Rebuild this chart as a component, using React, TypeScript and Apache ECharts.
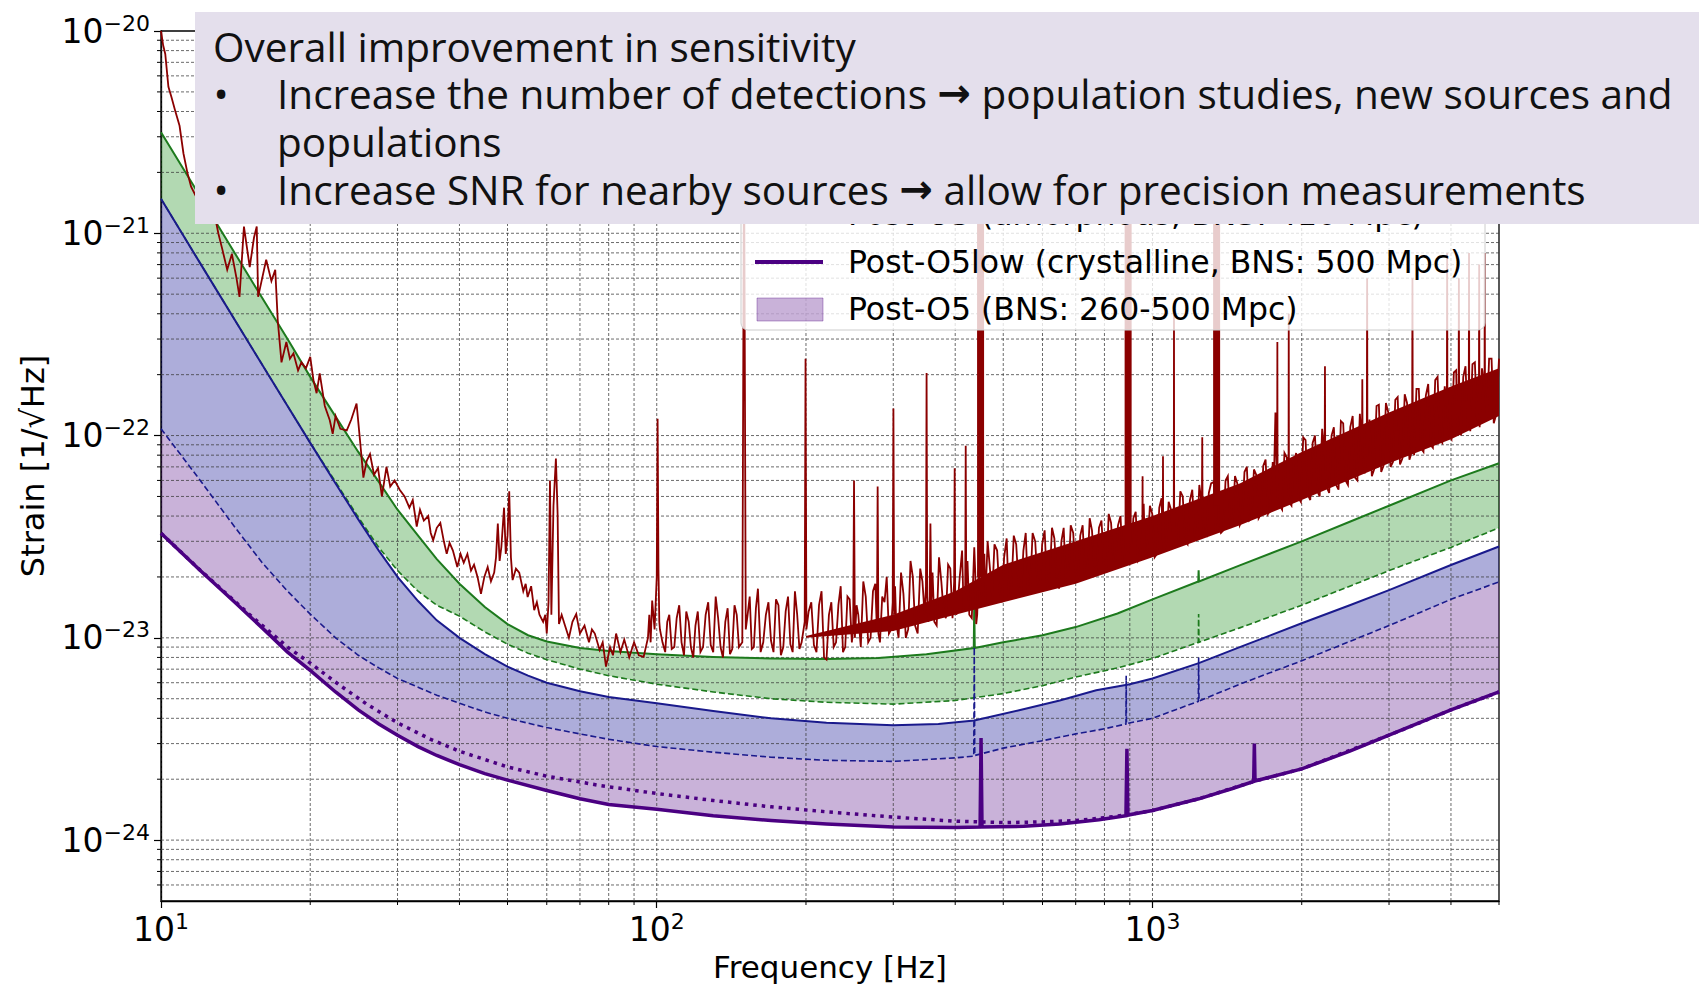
import React, { useEffect, useRef } from "react";
import * as echarts from "echarts";

type Pt = [number, number];

// ---------- axes ----------
const FREQ_MIN = 10;
const FREQ_MAX = 5000;
const STRAIN_MIN = 5e-25;
const STRAIN_MAX = 1e-20;

const xMajorGrid = [10, 100, 1000];
const xMinorGrid = [20, 30, 40, 50, 60, 70, 80, 90, 200, 300, 400, 500, 600, 700, 800, 900, 2000, 3000, 4000];
const xMinorTicks = [20, 30, 40, 50, 60, 70, 80, 90, 200, 300, 400, 500, 600, 700, 800, 900, 2000, 3000, 4000, 5000];
const yMajorGrid = [1e-24, 1e-23, 1e-22, 1e-21];
const yMinorGrid = [
  6e-25, 7e-25, 8e-25, 9e-25,
  2e-24, 3e-24, 4e-24, 5e-24, 6e-24, 7e-24, 8e-24, 9e-24,
  2e-23, 3e-23, 4e-23, 5e-23, 6e-23, 7e-23, 8e-23, 9e-23,
  2e-22, 3e-22, 4e-22, 5e-22, 6e-22, 7e-22, 8e-22, 9e-22,
  2e-21, 3e-21, 4e-21, 5e-21, 6e-21, 7e-21, 8e-21, 9e-21,
];

// ---------- design curves ----------
const greenSolid: Pt[] = [
  [10, 3.16e-21], [12, 1.52e-21], [15, 6.2e-22], [18, 3.0e-22], [20, 1.95e-22], [22.5, 1.24e-22],
  [25, 8.3e-23], [27.5, 5.9e-23], [30, 4.3e-23], [33, 3.2e-23], [36, 2.45e-23], [40, 1.85e-23],
  [45, 1.42e-23], [50, 1.17e-23], [55, 1.03e-23], [60, 9.6e-24], [70, 8.9e-24], [80, 8.6e-24],
  [100, 8.3e-24], [130, 8.05e-24], [170, 7.9e-24], [220, 7.85e-24], [280, 7.95e-24], [350, 8.3e-24],
  [436, 8.9e-24], [437, 1.48e-23], [438, 8.9e-24], [500, 9.5e-24], [600, 1.03e-23], [700, 1.13e-23],
  [850, 1.32e-23], [1000, 1.55e-23], [1237, 1.9e-23], [1239, 2.16e-23], [1241, 1.9e-23], [1500, 2.28e-23],
  [2000, 3.0e-23], [2500, 3.75e-23], [3000, 4.5e-23], [4000, 6.0e-23], [5000, 7.3e-23],
];
const greenDashed: Pt[] = [
  [10, 1.48e-21], [12, 7.1e-22], [15, 2.9e-22], [18, 1.4e-22], [20, 9.2e-23], [22.5, 5.9e-23],
  [25, 3.95e-23], [27.5, 2.8e-23], [30, 2.15e-23], [33, 1.7e-23], [36, 1.45e-23], [40, 1.28e-23],
  [45, 1.07e-23], [50, 9.3e-24], [55, 8.4e-24], [60, 7.8e-24], [70, 7.0e-24], [80, 6.5e-24],
  [100, 5.9e-24], [130, 5.4e-24], [170, 5.0e-24], [220, 4.8e-24], [300, 4.7e-24], [400, 4.9e-24],
  [500, 5.3e-24], [600, 5.8e-24], [700, 6.4e-24], [850, 7.1e-24], [1000, 7.9e-24], [1237, 9.5e-24],
  [1239, 1.31e-23], [1241, 9.5e-24], [1500, 1.12e-23], [2000, 1.45e-23], [2500, 1.8e-23],
  [3000, 2.15e-23], [4000, 2.8e-23], [5000, 3.5e-23],
];
const blueSolid: Pt[] = [
  [10, 1.48e-21], [12, 7.1e-22], [15, 2.9e-22], [18, 1.4e-22], [20, 9.2e-23], [22.5, 5.8e-23],
  [25, 3.85e-23], [27.5, 2.7e-23], [30, 2.0e-23], [33, 1.52e-23], [36, 1.22e-23], [40, 1.0e-23],
  [45, 8.3e-24], [50, 7.2e-24], [55, 6.5e-24], [60, 6.0e-24], [70, 5.45e-24], [80, 5.1e-24],
  [100, 4.75e-24], [130, 4.35e-24], [170, 4.0e-24], [220, 3.8e-24], [300, 3.7e-24], [370, 3.75e-24],
  [437, 3.9e-24], [541, 4.4e-24], [650, 4.9e-24], [770, 5.5e-24], [900, 5.9e-24], [1000, 6.3e-24],
  [1240, 7.5e-24], [1500, 9.0e-24], [2000, 1.18e-23], [2500, 1.45e-23], [3000, 1.72e-23],
  [4000, 2.29e-23], [5000, 2.83e-23],
];
const blueDashed: Pt[] = [
  [10, 1.08e-22], [12, 6.0e-23], [14, 3.6e-23], [16, 2.35e-23], [18, 1.7e-23], [20, 1.31e-23],
  [22.5, 1.0e-23], [25, 8.2e-24], [27.5, 7.1e-24], [30, 6.3e-24], [33, 5.7e-24], [36, 5.2e-24],
  [40, 4.75e-24], [45, 4.3e-24], [50, 4.0e-24], [60, 3.6e-24], [70, 3.35e-24], [80, 3.15e-24],
  [100, 2.9e-24], [130, 2.72e-24], [170, 2.57e-24], [220, 2.48e-24], [300, 2.45e-24], [400, 2.55e-24],
  [436, 2.6e-24], [437, 9.0e-24], [438, 2.62e-24], [500, 2.85e-24], [600, 3.1e-24], [700, 3.35e-24],
  [800, 3.55e-24], [884, 3.75e-24], [885, 6.5e-24], [886, 3.77e-24], [1000, 4.0e-24], [1237, 4.85e-24],
  [1239, 8.0e-24], [1241, 4.87e-24], [1500, 5.9e-24], [2000, 7.7e-24], [2500, 9.6e-24],
  [3000, 1.15e-23], [4000, 1.55e-23], [5000, 1.89e-23],
];
const purpleLow: Pt[] = [
  [10, 3.29e-23], [12, 2.15e-23], [14, 1.52e-23], [16, 1.12e-23], [18, 8.5e-24], [20, 6.9e-24],
  [22.5, 5.4e-24], [25, 4.4e-24], [27.5, 3.75e-24], [30, 3.3e-24], [33, 2.9e-24], [36, 2.62e-24],
  [40, 2.36e-24], [45, 2.13e-24], [50, 1.98e-24], [60, 1.76e-24], [70, 1.6e-24], [80, 1.5e-24],
  [100, 1.42e-24], [130, 1.32e-24], [170, 1.25e-24], [220, 1.2e-24], [300, 1.16e-24], [400, 1.155e-24],
  [449, 1.16e-24], [451, 3.2e-24], [453, 1.16e-24], [550, 1.17e-24], [650, 1.2e-24], [780, 1.26e-24],
  [884, 1.32e-24], [888, 2.83e-24], [892, 1.33e-24], [1000, 1.4e-24], [1240, 1.6e-24], [1450, 1.8e-24],
  [1600, 1.95e-24], [1605, 3.0e-24], [1610, 1.96e-24], [2000, 2.25e-24], [2500, 2.75e-24],
  [3000, 3.3e-24], [4000, 4.4e-24], [5000, 5.4e-24],
];
const purpleDotted: Pt[] = [
  [10, 3.29e-23], [12, 2.16e-23], [15, 1.32e-23], [18, 9.0e-24], [20, 7.5e-24], [23, 5.8e-24],
  [26, 4.7e-24], [30, 3.8e-24], [35, 3.15e-24], [40, 2.75e-24], [50, 2.3e-24], [60, 2.07e-24],
  [77, 1.86e-24], [100, 1.7e-24], [130, 1.57e-24], [170, 1.46e-24], [220, 1.38e-24], [300, 1.3e-24],
  [400, 1.24e-24], [500, 1.22e-24], [600, 1.23e-24], [700, 1.25e-24], [800, 1.29e-24], [900, 1.34e-24],
  [1000, 1.4e-24], [1240, 1.6e-24], [1600, 1.95e-24], [2000, 2.25e-24], [3000, 3.3e-24],
  [4000, 4.4e-24], [5000, 5.4e-24],
];

// ---------- measured O3 spectrum (strain in units of 1e-23) ----------
const RED_UNIT = 1e-23;
const redLowFreq: Pt[] = [
  [10, 1000], [10.1, 850], [10.2, 770], [10.35, 530], [10.5, 470], [10.67, 407], [10.9, 340], [11.1, 248],
  [11.3, 200], [11.5, 170], [11.8, 150], [12.1, 165], [12.4, 128], [12.7, 140], [13.05, 100], [13.3, 83],
  [13.6, 66], [13.9, 79], [14.2, 60], [14.4, 48.5], [14.7, 108], [15.1, 68], [15.4, 95], [15.6, 108],
  [15.7, 48.5], [16.0, 60], [16.3, 74], [16.7, 58], [17.0, 66], [17.2, 37], [17.5, 23], [17.9, 29],
  [18.2, 24], [18.5, 25.5], [18.9, 21], [19.2, 23], [19.6, 21.5], [20.0, 24.5], [20.3, 18.8], [20.6, 16.2],
  [20.9, 20.3], [21.4, 14], [21.9, 11.9], [22.2, 10.2], [22.5, 12.5], [23.0, 10.8], [23.7, 10.6], [24.2, 12],
  [24.8, 14.4], [25.2, 9.5], [25.6, 6.2], [26.0, 7.5], [26.4, 8.1], [26.9, 6.4], [27.4, 6.9], [27.9, 5.0],
  [28.5, 7.0], [29.0, 5.6], [29.6, 6.0], [30.3, 5.4], [31.0, 5.0], [31.7, 4.4], [32.2, 4.8], [32.8, 3.55],
  [33.3, 4.3], [33.9, 3.8], [34.6, 4.0], [35.0, 3.3], [35.4, 3.04], [36.0, 3.5], [36.6, 3.7], [37.2, 3.0],
  [37.7, 2.6], [38.2, 2.95], [38.8, 2.7], [39.6, 2.24], [40.2, 2.6], [40.8, 2.35], [41.5, 2.6], [42.2, 2.15],
  [42.8, 2.3], [43.5, 2.0], [44.2, 1.65], [44.9, 2.0], [45.6, 2.24], [46.3, 1.9], [47.0, 2.1], [47.4, 2.5],
  [47.8, 3.67], [48.2, 2.4], [48.6, 2.82], [49.2, 4.4], [49.6, 2.6], [50.0, 3.2], [50.4, 5.3], [50.8, 2.5],
  [51.2, 1.93], [52.0, 2.2], [52.8, 2.1], [53.8, 1.7], [54.4, 1.85], [54.9, 1.59], [55.8, 1.8], [56.6, 1.37],
  [57.3, 1.5], [58.0, 1.3], [59.0, 1.2], [59.6, 1.3], [60.0, 1.05], [60.5, 1.5], [60.9, 6.0], [61.3, 1.3],
  [61.9, 4.5], [62.6, 7.7], [63.1, 4.1], [63.5, 1.17], [64.3, 1.3], [65.3, 1.15], [66.5, 1.0], [67.6, 1.2],
  [68.8, 1.31], [70.0, 1.05], [71.5, 1.15], [73.0, 0.95], [74.0, 1.1], [75.0, 1.05], [76.7, 0.87], [77.8, 0.95],
  [79.0, 0.72], [80.5, 0.9], [81.6, 0.82], [82.8, 1.05], [84.5, 0.85], [86.0, 0.98], [88.0, 0.8], [90.0, 0.95],
  [92.0, 0.82], [94.1, 0.805], [96.0, 1.0], [96.6, 1.3], [97.2, 0.95], [97.9, 1.53], [99.0, 1.1], [100.0, 2.0],
  [100.4, 12.1], [100.8, 2.2], [101.2, 1.2],
];
const redMidFreq: Pt[] = [
  [101.5, 1.1], [104, 0.85], [106, 1.3], [108.5, 0.9], [111, 1.45], [113.5, 0.82], [116, 1.2], [118.5, 0.8],
  [121, 1.35], [124, 0.9], [127, 1.5], [130, 0.85], [133, 1.25], [136, 0.8], [139, 1.4], [142, 0.88],
  [145, 1.3], [148.8, 0.95], [150, 300], [151.2, 1.1], [154, 1.6], [157, 0.9], [160, 1.75], [164, 0.95],
  [168, 1.5], [172, 0.85], [176, 1.45], [180, 0.9], [184, 1.6], [188, 0.85], [192, 1.3], [196, 0.95],
  [198.8, 1.2], [199.6, 24], [200.4, 1.1], [205, 1.5], [210, 0.85], [215, 1.7], [220, 0.78], [225, 1.5],
  [230, 0.95], [235, 1.8], [240, 0.9], [245, 1.55], [249, 1.1], [250, 6.0], [251, 1.0], [255, 1.3],
  [261, 1.9], [267, 0.95], [273, 1.7], [278, 1.1], [279, 5.6], [280, 1.05], [285, 1.6], [291, 2.0],
  [297, 1.1], [299.2, 1.5], [300.2, 13.6], [301.2, 1.3], [304, 1.2], [311, 2.1], [318, 1.0], [325, 2.4],
  [332, 1.15], [340, 2.2], [347, 1.3], [349.2, 1.8], [350.2, 20.4], [351.2, 1.6], [355, 1.4], [356.5, 3.67],
  [358, 1.5], [363, 1.2], [371, 2.5], [379, 1.35], [387, 2.3], [395, 1.25], [398, 1.9], [399, 6.9],
  [400, 1.6], [404, 1.4], [413, 2.7], [419, 1.7], [420, 8.9], [421, 1.8], [427, 1.3], [437, 2.8],
  [441, 1.17], [446, 2.2], [452, 1.6], [458, 2.6], [460, 1.5],
];
const redHighFreq: Pt[] = [
  [465, 3.0], [475, 1.6], [486, 2.7], [497, 1.5], [508, 3.1], [519, 1.7], [531, 2.9], [543, 1.6],
  [555, 3.3], [567, 1.8], [580, 3.0], [593, 1.7], [606, 3.4], [620, 1.9], [634, 3.1], [648, 1.75],
  [662, 3.5], [677, 2.0], [692, 3.3], [707, 1.9], [723, 3.6], [739, 2.1], [755, 3.4], [772, 2.2],
  [789, 3.8], [807, 2.1], [825, 3.7], [843, 2.4], [862, 4.0], [878, 2.3], [885, 3.6], [893, 2.6],
  [900, 3.9], [907, 2.8], [925, 4.2], [945, 2.5],
  [954, 3.5], [955, 6.3], [956, 3.0], [966, 2.6], [988, 4.5], [1010, 2.5], [1032, 4.4], [1049, 3.0],
  [1050, 7.9], [1051, 3.2], [1055, 2.7], [1078, 4.7], [1102, 2.8], [1104, 4], [1105, 40], [1106, 3.5],
  [1126, 3.0], [1151, 5.0], [1177, 2.9], [1203, 5.4], [1230, 3.1], [1258, 4.5], [1260, 9.8], [1262, 4.0],
  [1285, 3.2], [1313, 5.8], [1330, 5.9], [1340, 3.4], [1352, 6.1], [1362, 3.5],
  [1374, 3.3], [1404, 6.0], [1435, 3.5], [1467, 6.3], [1500, 3.6], [1533, 6.6],
  [1567, 3.8], [1602, 6.8], [1637, 3.9], [1673, 7.1], [1710, 4.1], [1748, 7.4], [1770, 13], [1784, 5],
  [1786, 29], [1788, 5], [1826, 4.3], [1866, 7.8], [1881, 5], [1883, 40], [1885, 5], [1907, 4.5],
  [1949, 8.2], [1992, 4.7], [2036, 9.5], [2081, 4.8], [2127, 10.0], [2174, 5.0], [2225, 8], [2228, 22],
  [2231, 7], [2272, 5.2], [2322, 11.0], [2373, 5.4], [2425, 11.5], [2479, 5.7], [2534, 12.5], [2590, 6.0],
  [2646, 9], [2650, 19], [2654, 8], [2706, 9], [2710, 60], [2714, 8], [2770, 6.3], [2831, 14.0],
  [2893, 6.6], [2957, 14.5], [3022, 7.0], [3089, 15.0], [3157, 7.2], [3227, 16.0], [3298, 7.6], [3340, 11],
  [3345, 60], [3350, 10], [3371, 8.0], [3445, 17.0], [3521, 8.3], [3599, 18.0], [3678, 8.7], [3759, 19.5],
  [3842, 9.2], [3925, 14], [3930, 80], [3935, 13], [4010, 9.6], [4098, 21.0], [4145, 15], [4150, 60],
  [4155, 14], [4190, 10.0], [4280, 22.0], [4345, 15], [4350, 80], [4355, 14], [4375, 10.5], [4470, 23.0],
  [4555, 16], [4560, 70], [4565, 15], [4570, 11.0], [4675, 17], [4680, 80], [4685, 16], [4775, 24.0],
  [4880, 11.5], [5000, 24.0],
];
// second pass through the noise (read between the samples above)
const redTexture: Pt[] = [
  [102.7, 0.95], [105, 1.2], [107.2, 0.88], [109.7, 1.25], [112.2, 0.95], [114.7, 1.35], [117.2, 0.9],
  [119.7, 1.15], [122.5, 0.85], [125.5, 1.3], [128.5, 0.92], [131.5, 1.6], [134.5, 0.9], [137.5, 1.2],
  [140.5, 0.83], [143.5, 1.45], [146.5, 0.9], [152.5, 1.3], [155.5, 0.88], [158.5, 1.4], [162, 0.85],
  [166, 1.3], [170, 0.97], [174, 1.55], [178, 0.82], [182, 1.35], [186, 0.93], [190, 1.7], [194, 0.88],
  [202.5, 1.35], [207.5, 0.92], [212.5, 1.45], [217.5, 0.8], [222.5, 1.3], [227.5, 0.9], [232.5, 1.45],
  [237.5, 0.85], [242.5, 1.6], [247.5, 0.95], [253, 1.45], [258, 0.9], [264, 1.6], [270, 1.0], [276, 1.85],
  [282, 0.95], [288, 1.5], [294, 1.05], [302.5, 1.8], [307.5, 1.0], [314.5, 1.65], [321.5, 1.1], [328.5, 2.0],
  [336, 1.05], [343.5, 1.9], [353, 1.2], [360, 2.1], [367, 1.15], [375, 1.9], [383, 1.25], [391, 2.2],
  [402, 1.3], [408.5, 2.0], [416, 1.35], [423.5, 2.4], [432, 1.25], [439, 2.1], [443, 1.3],
  [470, 2.2], [480, 2.9], [491, 1.7], [502, 2.5], [513, 1.55], [525, 3.2], [537, 1.8], [549, 2.7],
  [561, 1.65], [573, 3.3], [586, 1.9], [599, 2.9], [613, 1.75], [627, 3.5], [641, 2.0], [655, 3.0],
  [669, 1.85], [684, 3.6], [699, 2.1], [715, 3.2], [731, 2.0], [747, 3.9], [763, 2.25], [780, 3.5],
  [798, 2.3], [816, 4.1], [834, 2.4], [852, 3.6], [871, 2.3], [915, 3.9], [935, 2.4], [960, 4.6],
  [977, 2.7], [999, 4.1], [1021, 2.6], [1043, 4.9], [1066, 2.9], [1090, 4.3], [1114, 2.9], [1138, 5.3],
  [1164, 3.0], [1190, 4.8], [1216, 3.2], [1243, 5.7], [1270, 3.3], [1299, 5.2], [1389, 3.4], [1419, 6.3],
  [1451, 3.7], [1483, 5.8], [1516, 3.8], [1550, 7.0], [1584, 3.9], [1619, 6.4], [1655, 4.1], [1691, 7.6],
  [1729, 4.3], [1760, 6.9], [1806, 4.5], [1846, 8.2], [1895, 4.6], [1928, 7.4], [1970, 4.9], [2014, 9.8],
  [2058, 5.1], [2104, 9.2], [2150, 5.3], [2199, 10.8], [2250, 5.5], [2297, 10.0], [2347, 5.7], [2399, 11.8],
  [2452, 6.0], [2506, 11.0], [2562, 6.2], [2620, 12.8], [2680, 6.5], [2740, 12.0], [2800, 6.8], [2862, 14.2],
  [2925, 7.1], [2990, 13.0], [3055, 7.4], [3123, 15.5], [3192, 7.7], [3262, 14.5], [3320, 8.0], [3408, 17.0],
  [3483, 8.6], [3560, 15.8], [3638, 9.0], [3718, 18.8], [3800, 9.5], [3886, 17.5], [3970, 10.0], [4054, 20.5],
  [4120, 10.5], [4235, 19.5], [4325, 11.0], [4420, 22.5], [4515, 11.8], [4620, 21.5], [4730, 12.3],
  [4830, 24.0], [4940, 12.8],
];
// thick violin-mode lines: [frequency, foot of the line]
const redThickLines: Pt[] = [
  [450, 2.0], [893, 3.0], [1347, 4.5],
];
const RED_LINE_TOP = 10000;
// dense core of the measured noise (units of 1e-23)
const redCoreLower: Pt[] = [
  [200, 1.0], [300, 1.08], [400, 1.3], [500, 1.5], [700, 1.85],
  [1000, 2.5], [1500, 3.6], [2000, 4.8], [3000, 7.3], [4000, 9.6], [5000, 12.5],
];
const redCoreUpper: Pt[] = [
  [200, 1.02], [300, 1.3], [400, 1.7], [500, 2.3], [700, 3.0],
  [1000, 4.0], [1500, 5.8], [2000, 8.3], [3000, 13.0], [4000, 17.5], [5000, 21.5],
];

// ---------- texts ----------
const legendLabels = [
  "Post-O5 (amorphous, BNS: 410 Mpc)",
  "Post-O5low (crystalline, BNS: 500 Mpc)",
  "Post-O5 (BNS: 260-500 Mpc)",
];
const overlayLines = [
  "Overall improvement in sensitivity",
  "Increase the number of detections {a|\u2192} population studies, new sources and",
  "populations",
  "Increase SNR for nearby sources {a|\u2192} allow for precision measurements",
];
const yTitle = "Strain [1/\u221AHz]";
const xTitle = "Frequency [Hz]";

const RED = "#8b0000";
const GREEN = "#1d7a1d";
const NAVY = "#1a1a8c";
const INDIGO = "#4b0082";
const AXIS_FONT = "DejaVu Sans";
const BOX_FONT = "Open Sans";

function powLabel(v: number): string {
  const l = Math.log10(v);
  const e = Math.round(l);
  if (Math.abs(l - e) > 1e-6) return "";
  const exp = e < 0 ? "\u2212" + Math.abs(e) : String(e);
  return `{b|10}{s|${exp}}`;
}

const labelRich = {
  b: { fontSize: 33, fontFamily: AXIS_FONT, color: "#000", lineHeight: 38 },
  s: { fontSize: 22, fontFamily: AXIS_FONT, color: "#000", verticalAlign: "top", lineHeight: 24 },
};

function bandSeries(name: string, upper: Pt[], lower: Pt[], fill: string, scale = 1, z = 1) {
  return {
    type: "custom",
    name,
    silent: true,
    z,
    clip: true,
    data: [[100, 1e-22]],
    renderItem: (_p: any, api: any) => {
      const pts = upper
        .map((p) => api.coord([p[0], p[1] * scale]))
        .concat(lower.slice().reverse().map((p) => api.coord([p[0], p[1] * scale])));
      return { type: "polygon", shape: { points: pts }, style: { fill } };
    },
  };
}

function lineSeries(name: string, data: any[], color: string, width: number, type: any, z: number) {
  return {
    type: "line",
    name,
    data,
    z,
    silent: true,
    symbol: "none",
    showSymbol: false,
    clip: true,
    connectNulls: false,
    lineStyle: { color, width, type, cap: "butt", join: "miter" },
  };
}

function boxText(text: string, x: number, y: number, align = "left") {
  return {
    type: "text", z: 21, silent: true, x, y,
    style: {
      text, fontSize: 40.5, fontFamily: BOX_FONT, fill: "#111",
      textAlign: align, align, textVerticalAlign: "middle", verticalAlign: "middle",
      rich: { a: { fontSize: 40, fontFamily: AXIS_FONT, fontWeight: "bold", fill: "#111", color: "#111" } },
    },
  };
}

function legendText(text: string, y: number) {
  return {
    type: "text", z: 11, silent: true, x: 848, y,
    style: { text, fontSize: 31.5, fontFamily: AXIS_FONT, fill: "#000",
      textAlign: "left", align: "left", textVerticalAlign: "middle", verticalAlign: "middle" },
  };
}

export default function App() {
  const ref = useRef<HTMLDivElement>(null);

  useEffect(() => {
    if (!ref.current) return;
    const chart = echarts.init(ref.current, null, { renderer: "svg", width: 1699, height: 987 });
    const redData: Pt[] = [...redLowFreq, ...redMidFreq, ...redHighFreq, ...redTexture]
      .slice()
      .sort((a, b) => a[0] - b[0])
      .map((p) => [p[0], p[1] * RED_UNIT] as Pt);
    const thickData: any[] = [];
    redThickLines.forEach((p) => {
      thickData.push([p[0], p[1] * RED_UNIT], [p[0], RED_LINE_TOP * RED_UNIT], [p[0], "-"]);
    });

    const gridStyle = { stroke: "#3a3a3a", lineWidth: 1, lineDash: [3, 2], opacity: 0.75 };

    const option: any = {
      animation: false,
      backgroundColor: "#ffffff",
      grid: {
        left: 161, right: 200, top: 31, bottom: 86,
        containLabel: false, outerBoundsMode: "none",
        show: true, borderColor: "#000", borderWidth: 1.3, backgroundColor: "transparent",
      },
      xAxis: {
        type: "log", logBase: 10, min: FREQ_MIN, max: FREQ_MAX,
        name: xTitle, nameLocation: "middle", nameGap: 50,
        nameTextStyle: { fontSize: 31, fontFamily: AXIS_FONT, color: "#000" },
        axisLine: { show: true, onZero: false, lineStyle: { color: "#000", width: 1.3 } },
        axisTick: { show: true, length: 7, lineStyle: { color: "#000", width: 1.2 } },
        splitLine: { show: false },
        axisLabel: { formatter: powLabel, rich: labelRich, margin: 9, color: "#000", showMaxLabel: false },
      },
      yAxis: {
        type: "log", logBase: 10, min: STRAIN_MIN, max: STRAIN_MAX,
        axisLine: { show: true, onZero: false, lineStyle: { color: "#000", width: 1.3 } },
        axisTick: { show: true, length: 7, lineStyle: { color: "#000", width: 1.2 } },
        splitLine: { show: false },
        axisLabel: { formatter: powLabel, rich: labelRich, margin: 11, color: "#000", showMinLabel: false },
      },
      series: [
        bandSeries("Post-O4 band", greenSolid, greenDashed, "rgba(0,128,0,0.3)"),
        bandSeries("Post-O5 amorphous band", blueSolid, blueDashed, "rgba(0,0,139,0.32)"),
        bandSeries("Post-O5 (BNS: 260-500 Mpc)", blueDashed, purpleLow, "rgba(75,0,130,0.3)"),
        {
          type: "custom", name: "grid-x", silent: true, z: 2, clip: true,
          data: [...xMajorGrid, ...xMinorGrid].map((f) => [f, STRAIN_MIN]),
          renderItem: (_p: any, api: any) => {
            const f = api.value(0);
            const a = api.coord([f, STRAIN_MIN]);
            const b = api.coord([f, STRAIN_MAX]);
            return { type: "line", shape: { x1: a[0], y1: a[1], x2: b[0], y2: b[1] }, style: gridStyle };
          },
        },
        {
          type: "custom", name: "grid-y", silent: true, z: 2, clip: true,
          data: [...yMajorGrid, ...yMinorGrid].map((h) => [FREQ_MIN, h]),
          renderItem: (_p: any, api: any) => {
            const h = api.value(1);
            const a = api.coord([FREQ_MIN, h]);
            const b = api.coord([FREQ_MAX, h]);
            return { type: "line", shape: { x1: a[0], y1: a[1], x2: b[0], y2: b[1] }, style: gridStyle };
          },
        },
        {
          type: "custom", name: "minor-x", silent: true, z: 2, clip: false,
          data: xMinorTicks.map((f) => [f, STRAIN_MIN]),
          renderItem: (_p: any, api: any) => {
            const a = api.coord([api.value(0), STRAIN_MIN]);
            return { type: "line", shape: { x1: a[0], y1: a[1], x2: a[0], y2: a[1] + 4 }, style: { stroke: "#000", lineWidth: 1 } };
          },
        },
        {
          type: "custom", name: "minor-y", silent: true, z: 2, clip: false,
          data: yMinorGrid.map((h) => [FREQ_MIN, h]),
          renderItem: (_p: any, api: any) => {
            const a = api.coord([FREQ_MIN, api.value(1)]);
            return { type: "line", shape: { x1: a[0], y1: a[1], x2: a[0] - 4, y2: a[1] }, style: { stroke: "#000", lineWidth: 1 } };
          },
        },
        lineSeries("Post-O4 upper", greenSolid, GREEN, 2, "solid", 3),
        lineSeries("Post-O4 lower", greenDashed, GREEN, 1.6, [6, 3], 3),
        lineSeries("Post-O5 (amorphous, BNS: 410 Mpc)", blueSolid, NAVY, 2, "solid", 3),
        lineSeries("Post-O5 amorphous lower", blueDashed, NAVY, 1.6, [6, 3], 3),
        lineSeries("Post-O5low dotted", purpleDotted, INDIGO, 3.5, [3.5, 5], 3),
        lineSeries("Post-O5low (crystalline, BNS: 500 Mpc)", purpleLow, INDIGO, 3.5, "solid", 3),
        bandSeries("O3 core", redCoreUpper, redCoreLower, RED, RED_UNIT, 4),
        lineSeries("O3", redData, RED, 1.8, "solid", 4),
        lineSeries("O3 violin lines", thickData, RED, 7, "solid", 4),
      ],
      graphic: [
        // y axis title
        { type: "text", z: 5, silent: true, x: 33, y: 466, rotation: Math.PI / 2,
          style: { text: yTitle, fontSize: 32, fontFamily: AXIS_FONT, fill: "#000",
            textAlign: "center", align: "center", textVerticalAlign: "middle", verticalAlign: "middle" } },
        // legend (partially hidden by the overlay box)
        { type: "rect", z: 10, silent: true, shape: { x: 741, y: 100, width: 744, height: 230, r: 7 },
          style: { fill: "rgba(255,255,255,0.8)", stroke: "#cccccc", lineWidth: 1 } },
        { type: "line", z: 11, silent: true, shape: { x1: 755, y1: 214, x2: 823, y2: 214 },
          style: { stroke: NAVY, lineWidth: 2 } },
        legendText(legendLabels[0], 214),
        { type: "line", z: 11, silent: true, shape: { x1: 755, y1: 262, x2: 823, y2: 262 },
          style: { stroke: INDIGO, lineWidth: 4 } },
        legendText(legendLabels[1], 262),
        { type: "rect", z: 11, silent: true, shape: { x: 757, y: 298, width: 66, height: 23 },
          style: { fill: "rgba(75,0,130,0.3)", stroke: "rgba(75,0,130,0.35)", lineWidth: 1 } },
        legendText(legendLabels[2], 309),
        // overlay box
        { type: "rect", z: 20, silent: true, shape: { x: 195, y: 12, width: 1504, height: 212 },
          style: { fill: "#e4dfec" } },
        boxText(overlayLines[0], 213, 46),
        boxText("\u2022", 221, 93, "center"),
        boxText(overlayLines[1], 277, 93),
        boxText(overlayLines[2], 277, 141),
        boxText("\u2022", 221, 189, "center"),
        boxText(overlayLines[3], 277, 189),
      ],
    };

    chart.setOption(option);
    return () => {
      chart.dispose();
    };
  }, []);

  return (
    <div
      ref={ref}
      style={{ position: "fixed", left: 0, top: 0, width: 1699, height: 987, background: "#fff" }}
    />
  );
}
